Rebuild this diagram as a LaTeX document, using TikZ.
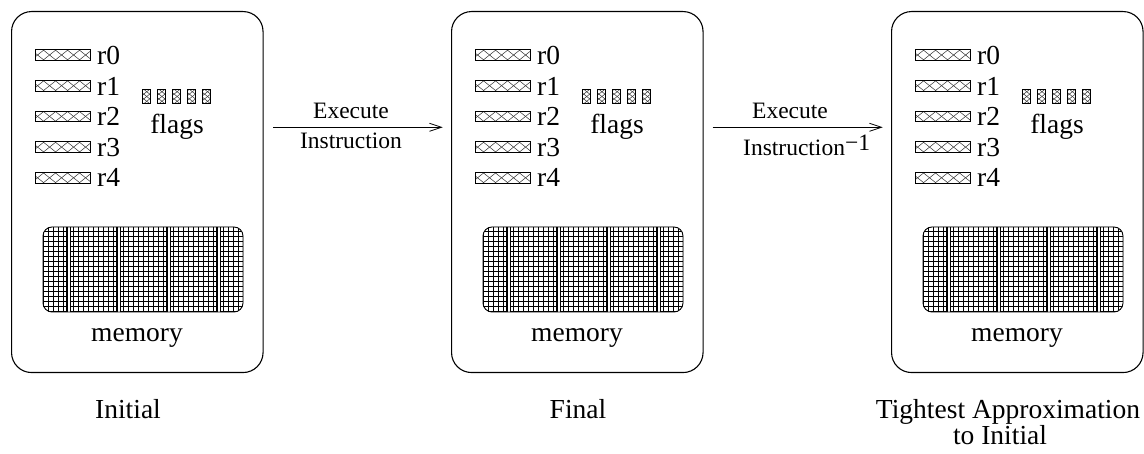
\documentclass[tikz,border=0pt]{standalone}
\usepackage{fontspec}
\setmainfont{Liberation Serif}
\usetikzlibrary{arrows.meta}
\tikzset{
  x=1pt, y=-1pt,
  lbl/.style={font=\fontsize{27.5}{30}\selectfont, inner sep=0pt},
  albl/.style={font=\fontsize{23.5}{27}\selectfont, inner sep=0pt},
  panel/.style={draw, line width=1.1pt, rounded corners=20pt, inner sep=0pt,
    minimum width=251.5pt, minimum height=361pt},
  hatchl/.style={line width=0.5pt, black!80},
  hatched/.style={draw, line width=0.8pt, inner sep=0pt, path picture={
    \foreach \k in {-12,...,10} {
      \draw[hatchl] ([xshift=\k*#1-4pt]path picture bounding box.south west) -- ++(60pt,48pt);
      \draw[hatchl] ([xshift=\k*#1-4pt]path picture bounding box.north west) -- ++(60pt,-48pt);
    }}},
  regbox/.style={hatched=12pt, minimum width=55pt, minimum height=10.5pt},
  flagbox/.style={hatched=6pt, minimum width=8pt, minimum height=14pt},
  gridl/.style={line width=1.4pt, black},
  sepb/.style={line width=1.2pt, black},
  membox/.style={draw, line width=0.9pt, rounded corners=9pt, inner sep=0pt,
    minimum width=200pt, minimum height=85pt, path picture={
    \foreach \i in {0,...,40}
      \draw[gridl] ([xshift=\i*5pt+0.5pt]path picture bounding box.south west) -- ([xshift=\i*5pt+0.5pt]path picture bounding box.north west);
    \foreach \j in {0,...,17}
      \draw[gridl] ([yshift=\j*5pt+0.5pt]path picture bounding box.south west) -- ([yshift=\j*5pt+0.5pt]path picture bounding box.south east);
    \foreach \s in {25.5,75.5,125.5,175.5} {
      \draw[sepb] ([xshift=\s pt-1.6pt]path picture bounding box.south west) -- ([xshift=\s pt-1.6pt]path picture bounding box.north west);
      \draw[sepb] ([xshift=\s pt+1.6pt]path picture bounding box.south west) -- ([xshift=\s pt+1.6pt]path picture bounding box.north west);
      \draw[white, line width=2pt] ([xshift=\s pt]path picture bounding box.south west) -- ([xshift=\s pt]path picture bounding box.north west);
    }
    }},
  arr/.style={line width=0.8pt, -{Straight Barb[length=12pt,width=8pt,line width=0.8pt]}},
}
\newcommand\drawpanel[2]{%
\begin{scope}[xshift=#1pt]
  \node[panel, anchor=north west] (box#2) at (11,11) {};
  \foreach \i in {0,...,4} {
    \node[regbox] (reg#2\i) at (62.5,{55+30.7*\i}) {};
    \node[lbl, anchor=base west] (rl#2\i) at (97,{65+30.5*\i}) {r\i};
  }
  \foreach \j in {0,...,4}
    \node[flagbox] (flag#2\j) at ({146+15.2*\j},96.5) {};
  \node[lbl, anchor=base] (flags#2) at (177,133.3) {flags};
  \node[membox] (mem#2) at (143,269.5) {};
  \node[lbl, anchor=base] (meml#2) at (137,341.7) {memory};
\end{scope}}
\begin{document}
\begin{tikzpicture}
\useasboundingbox (0,0) rectangle (1144,454);
\drawpanel{0}{A}
\drawpanel{440}{B}
\drawpanel{880}{C}
% arrows
\coordinate (a1s) at (273.3,127.3);
\coordinate (a1e) at (442.7,127.3);
\coordinate (a2s) at (712.7,127.3);
\coordinate (a2e) at (882.7,127.3);
\draw[arr] (a1s) -- (a1e);
\draw[arr] (a2s) -- (a2e);
\node[albl, anchor=base] (ex1) at (351,118.3) {Execute};
\node[albl, anchor=base] (in1) at (351,149) {Instruction};
\node[albl, anchor=base] (ex2) at (790,118.3) {Execute};
\node[albl, anchor=base west] (in2) at (743,155.3) {Instruction\raisebox{5pt}{−1}};
% bottom labels
\node[lbl, anchor=base] (lInit) at (128,419) {Initial};
\node[lbl, anchor=base] (lFinal) at (578,419) {Final};
\node[lbl, anchor=base] (lTight) at (1008,419) {Tightest Approximation};
\node[lbl, anchor=base] (lTo) at (1000,445) {to Initial};
\end{tikzpicture}
\end{document}
